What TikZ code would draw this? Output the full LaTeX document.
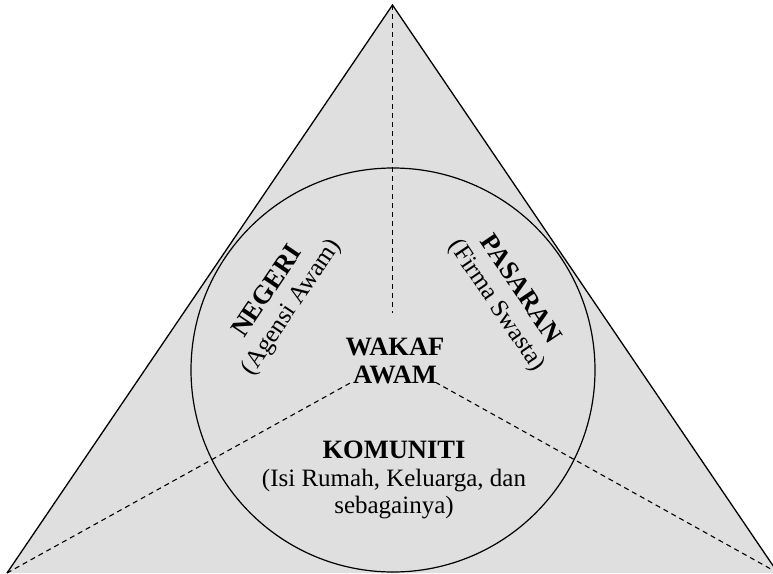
\documentclass[tikz,border=0pt]{standalone}
\usepackage{fontspec}
\setmainfont{Liberation Serif}
% bold heading of each sector
\newcommand\sectorhead[1]{{\fontsize{26.5}{28}\selectfont\bfseries #1}}
\begin{document}
\begin{tikzpicture}[x=1pt,y=-1pt,
  edge/.style={line width=1.3pt, line join=miter},
  divider/.style={line width=1.1pt, dash pattern=on 5pt off 4pt},
  ring/.style={line width=1.2pt},
  txt/.style={font=\fontsize{25}{28}\selectfont, align=center, inner sep=0pt},
]
\useasboundingbox (0,0) rectangle (773,573);
\clip (0,0) rectangle (773,573);

% corners of the triangle and the meeting point of the three sectors
\coordinate (apex) at (392.5,5);
\coordinate (left) at (7,573);
\coordinate (right) at (778,573);
\coordinate (hub) at (393,370);

% shaded triangle with its circle
\fill[gray!25] (apex) -- (left) -- (right) -- cycle;
\draw[edge] (left) -- (apex) -- (right);
\draw[ring] (hub) circle[radius=202pt];

% dashed sector boundaries, stopping short of the centre
\coordinate (topend) at (392.5,313);
\coordinate (leftend) at (352,382);
\coordinate (rightend) at (435,382);
\draw[divider] (apex) -- (topend);
\draw[divider] (left) -- (leftend);
\draw[divider] (right) -- (rightend);

% sector labels
\node[txt] (wakaf) at (395,361) {\sectorhead{WAKAF}\\\sectorhead{AWAM}};
\node[txt, rotate=56] (negeri) at (280,300) {\sectorhead{NEGERI}\\(Agensi Awam)};
\node[txt, rotate=-56] (pasaran) at (508,298) {\sectorhead{PASARAN}\\(Firma Swasta)};
\node[txt, font=\fontsize{25}{27.5}\selectfont] (komuniti) at (394,480)
  {\sectorhead{KOMUNITI}\\(Isi Rumah, Keluarga, dan\\sebagainya)};
\end{tikzpicture}
\end{document}
